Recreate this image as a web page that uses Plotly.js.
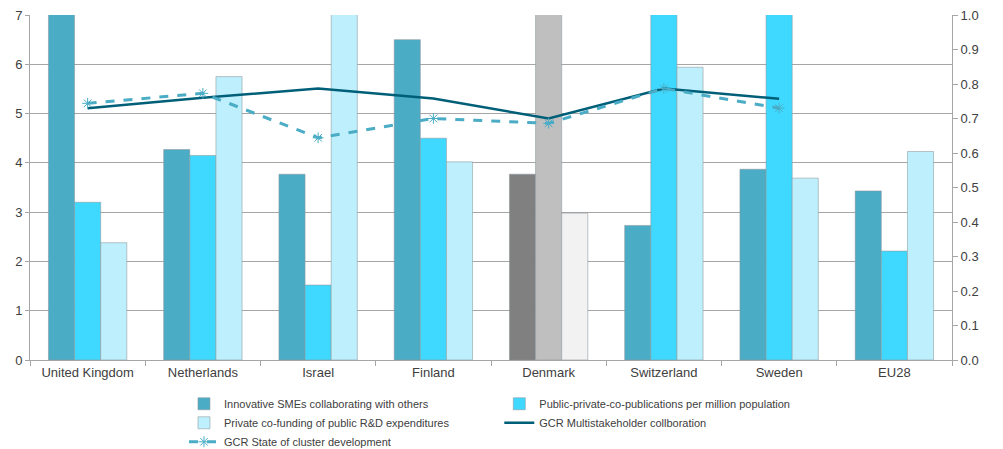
<!DOCTYPE html>
<html>
<head>
<meta charset="utf-8">
<script src="https://cdn.plot.ly/plotly-3.0.1.min.js"></script>
<style>html,body{margin:0;padding:0;background:#fff;}#chart{width:1003px;height:449px;}</style>
</head>
<body>
<div id="chart"></div>
<script>
const countries = ["United Kingdom","Netherlands","Israel","Finland","Denmark","Switzerland","Sweden","EU28"];
const smes      = [7.5, 4.27, 3.77, 6.5, 3.77, 2.73, 3.87, 3.43];
const pubs      = [3.2, 4.15, 1.52, 4.5, 7.5, 7.5, 7.5, 2.21];
const privFund  = [2.38, 5.75, 7.5, 4.02, 2.98, 5.94, 3.69, 4.23];
const gcrMulti  = [0.73, 0.76, 0.787, 0.758, 0.70, 0.787, 0.757, null];
const gcrState  = [0.744, 0.773, 0.644, 0.70, 0.686, 0.787, 0.73, null];

const cSme = "#4BACC6", cPub = "#3FD9FF", cPriv = "#BDF0FC";
const colorsFor = (base, grey) => countries.map(c => c === "Denmark" ? grey : base);
const edge = {color: "rgba(140,150,155,0.55)", width: 1};

const traces = [
  {type:"bar", name:"Innovative SMEs collaborating with others", x:countries, y:smes,
   marker:{color:colorsFor(cSme,"#808080"), line:edge}, legend:"legend"},
  {type:"bar", name:"Public-private-co-publications per million population", x:countries, y:pubs,
   marker:{color:colorsFor(cPub,"#BFBFBF"), line:edge}, legend:"legend2"},
  {type:"bar", name:"Private co-funding of public R&D expenditures", x:countries, y:privFund,
   marker:{color:colorsFor(cPriv,"#F2F2F2"), line:edge}, legend:"legend"},
  {type:"scatter", mode:"lines", name:"GCR Multistakeholder collboration", x:countries, y:gcrMulti,
   yaxis:"y2", line:{color:"#005F78", width:2.5}, legend:"legend2"},
  {type:"scatter", mode:"lines+markers", name:"GCR State of cluster development", x:countries, y:gcrState,
   yaxis:"y2", line:{color:"#4BACC6", width:3, dash:"dash"},
   marker:{symbol:"asterisk-open", size:9, color:"#4BACC6", line:{color:"#4BACC6", width:1}}, legend:"legend"}
];

const fontFam = "Liberation Sans, Arial, sans-serif";
const legendCommon = {yref:"container", y:0.133, xanchor:"left", yanchor:"top", orientation:"v",
  font:{size:11, color:"#404040"}, bgcolor:"rgba(0,0,0,0)", tracegroupgap:0, traceorder:"normal"};
const layout = {
  width:1003, height:449,
  margin:{l:30, r:51, t:15, b:89, autoexpand:false},
  paper_bgcolor:"#fff", plot_bgcolor:"#fff",
  font:{family:fontFam, size:12, color:"#404040"},
  barmode:"group", bargap:0.32, bargroupgap:0,
  showlegend:true,
  xaxis:{type:"category", showline:true, linecolor:"#A6A6A6", linewidth:1,
         ticks:"outside", tickson:"boundaries", ticklen:5, tickcolor:"#A6A6A6",
         tickfont:{size:13, color:"#404040"}, showgrid:false},
  yaxis:{range:[0,7], dtick:1, showline:true, linecolor:"#A6A6A6", linewidth:1,
         ticks:"outside", ticklen:4, tickcolor:"#A6A6A6",
         gridcolor:"#A6A6A6", gridwidth:1, zeroline:false,
         tickfont:{size:13, color:"#404040"}},
  yaxis2:{range:[0,1], dtick:0.1, tickformat:".1f", overlaying:"y", side:"right",
          showline:true, linecolor:"#A6A6A6", linewidth:1,
          ticks:"outside", ticklen:5, tickcolor:"#A6A6A6", showgrid:false, zeroline:false,
          tickfont:{size:13, color:"#404040"}},
  legend:Object.assign({x:0.167}, legendCommon),
  legend2:Object.assign({x:0.509}, legendCommon)
};

Plotly.newPlot("chart", traces, layout, {displayModeBar:false, staticPlot:true});
</script>
</body>
</html>
